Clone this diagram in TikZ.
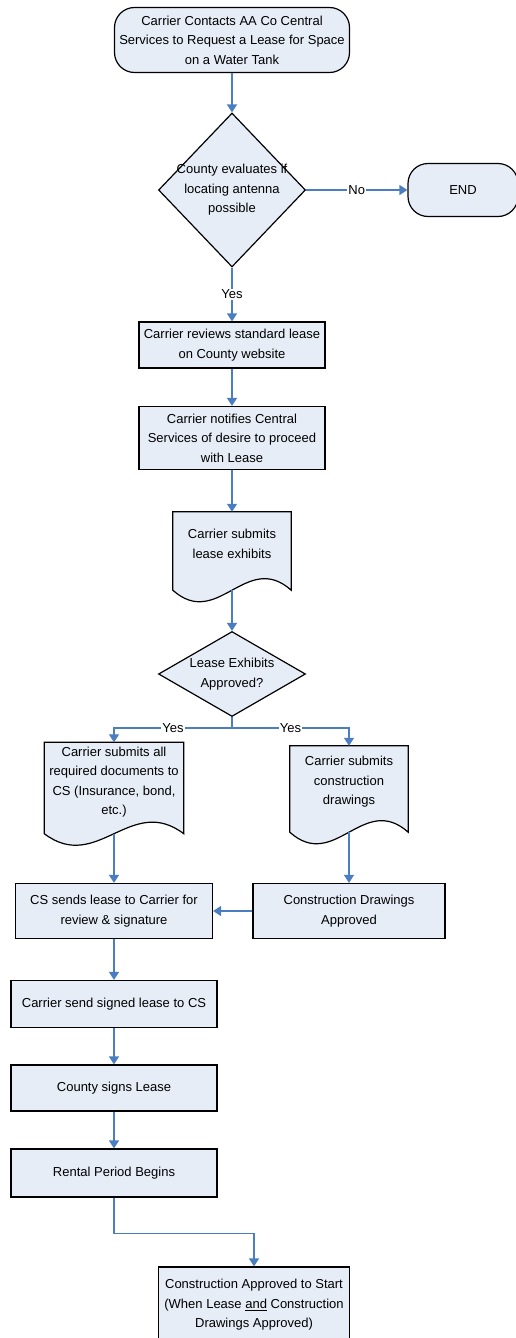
\documentclass[tikz,border=0pt]{standalone}
\usepackage{fontspec}
\setmainfont{Liberation Sans}
\usepackage{xcolor}
\usetikzlibrary{arrows.meta,backgrounds,calc,shapes.geometric}
\definecolor{boxfill}{RGB}{230,237,247}
\definecolor{flowblue}{RGB}{74,126,193}

\begin{document}
\begin{tikzpicture}[x=1pt,y=-1pt,
  font=\fontsize{13}{19.5}\selectfont,
  outline/.style={draw=black,line width=1.2pt,fill=boxfill},
  terminal/.style={outline,rounded corners=20pt,align=center,inner sep=0pt},
  process/.style={outline,align=center,inner sep=0pt},
  decision/.style={outline,diamond,inner sep=0pt},
  docbox/.style={rectangle,inner sep=0pt},
  flow/.style={draw=flowblue,line width=1.3pt,-{Triangle[width=10pt,length=8pt]}},
  answer/.style={fill=white,inner sep=1pt}]
  \useasboundingbox (0,0) rectangle (516,1338);

  \node (start) [terminal,minimum width=235pt,minimum height=65pt] at (232,40) {Carrier Contacts AA Co Central\\Services to Request a Lease for Space\\on a Water Tank};
  \node (eval) [decision,minimum width=147pt,minimum height=154pt,label={[align=center]center:{County evaluates if\\locating antenna\\possible}}] at (232,190) {};
  \node (end) [terminal,minimum width=110pt,minimum height=53pt] at (463,190) {END};
  \node (review) [process,minimum width=186pt,minimum height=46pt] at (232,345) {Carrier reviews standard lease\\on County website};
  \node (notify) [process,minimum width=186pt,minimum height=63pt] at (232,438) {Carrier notifies Central\\Services of desire to proceed\\with Lease};
  \node (exhibits) [docbox,minimum width=118pt,minimum height=78pt,label={[align=center,yshift=7pt]center:{Carrier submits\\lease exhibits}}] at (232,551) {};
  \node (approve) [decision,minimum width=147pt,minimum height=85pt,label={[align=center]center:{Lease Exhibits\\Approved?}}] at (232,674) {};
  \coordinate (split) at (232,728);
  \node (docs) [docbox,minimum width=139pt,minimum height=91pt,label={[align=center,yshift=6pt]center:{Carrier submits all\\required documents to\\CS (Insurance, bond,\\etc.)}}] at (114,788) {};
  \node (drawings) [docbox,minimum width=118pt,minimum height=86pt,label={[align=center,yshift=7pt]center:{Carrier submits\\construction\\drawings}}] at (349,789) {};
  \node (cssend) [process,minimum width=197pt,minimum height=55pt] at (114,911) {CS sends lease to Carrier for\\review \& signature};
  \node (cdapp) [process,minimum width=192pt,minimum height=55pt] at (349,911) {Construction Drawings\\Approved};
  \node (signed) [process,minimum width=206pt,minimum height=47pt] at (114,1004) {Carrier send signed lease to CS};
  \node (county) [process,minimum width=206pt,minimum height=46pt] at (114,1088) {County signs Lease};
  \node (rental) [process,minimum width=206pt,minimum height=48pt] at (114,1173) {Rental Period Begins};
  \node (final) [process,minimum width=191pt,minimum height=76pt] at (254,1305) {Construction Approved to Start\\(When Lease \underline{and} Construction\\Drawings Approved)};

  % document shapes: flat top, wavy bottom, behind the text
  \begin{scope}[on background layer]
    \foreach \d/\w in {exhibits/118,docs/139,drawings/118}
      \draw[outline] (\d.north west) -- (\d.north east) -- (\d.south east)
        .. controls ($(\d.south east)+(-0.38*\w,-40)$) and ($(\d.south west)+(0.38*\w,40)$) .. (\d.south west) -- cycle;
  \end{scope}

  \draw[flow] (start) -- (eval);
  \draw[flow] (eval) -- node[answer] {No} (end);
  \draw[flow] (eval) -- node[answer] {Yes} (review);
  \draw[flow] (review) -- (notify);
  \draw[flow] (notify) -- (exhibits);
  \draw[flow] (exhibits) -- (approve);
  \draw[draw=flowblue,line width=1.3pt] (approve) -- (split);
  \draw[flow] (split) -| node[answer,pos=0.25] {Yes} (docs);
  \draw[flow] (split) -| node[answer,pos=0.25] {Yes} (drawings);
  \draw[flow] (docs) -- (cssend);
  \draw[flow] (drawings) -- (cdapp);
  \draw[flow] (cdapp) -- (cssend);
  \draw[flow] (cssend) -- (signed);
  \draw[flow] (signed) -- (county);
  \draw[flow] (county) -- (rental);
  \draw[flow] (rental.south) -- ++(0,36) -| (final);
\end{tikzpicture}
\end{document}
